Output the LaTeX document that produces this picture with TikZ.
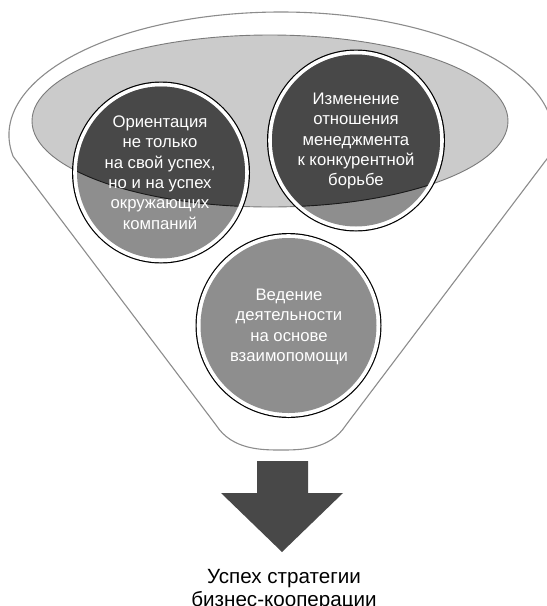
\documentclass[tikz,border=0pt]{standalone}
\usepackage{fontspec}
\setmainfont{Liberation Sans}
\definecolor{dk}{HTML}{484848}
\definecolor{md}{HTML}{8E8E8E}
\definecolor{lt}{HTML}{CBCBCB}
\definecolor{ol}{HTML}{8C8C8C}
\definecolor{el}{HTML}{7A7A7A}
\newcommand\mybub[4]{%
  \fill[black] (#1,#2) ellipse[x radius=#3, y radius=#4];
  \fill[white] (#1,#2) ellipse[x radius=#3-1.2, y radius=#4-1.2];
  \fill[md] (#1,#2) ellipse[x radius=#3-5, y radius=#4-5];
  \begin{scope}
    \clip (#1,#2) ellipse[x radius=#3-5, y radius=#4-5];
    \fill[dk] (270,121) ellipse[x radius=238, y radius=86];
    \draw[black!90, line width=0.9pt] (270,121) ellipse[x radius=238, y radius=86];
  \end{scope}}
\tikzset{
  btxt/.style={text=white, align=center, inner sep=0pt, font=\fontsize{16.7}{20.3}\selectfont},
  rtxt/.style={text=black, inner sep=0pt, anchor=base, font=\fontsize{20.6}{24}\selectfont}
}
\begin{document}
\begin{tikzpicture}[x=1pt,y=-1pt]
\useasboundingbox (0,0) rectangle (547,606);
\begin{scope}
\clip (0,0) rectangle (547,606);
% funnel
\draw[ol, line width=1.1pt, fill=white] (13.13,156.36)
  arc[start angle=170, end angle=370, x radius=272, y radius=123]
  -- (346,425) .. controls (330,450) and (300,450) .. (281,450)
  .. controls (262,450) and (232,450) .. (216,425) -- cycle;
% inner ellipse
\draw[el, line width=0.9pt, fill=lt] (270,121) ellipse[x radius=238, y radius=86];
% circles
\mybub{161}{172.5}{89}{91}
\mybub{356}{140.5}{89}{91}
\mybub{288.5}{325.5}{93}{92.5}
\node[btxt] (t1) at (160,172.5) {Ориентация\\не только\\на свой успех,\\но и на успех\\окружающих\\компаний};
\node[btxt] (t2) at (356,141) {Изменение\\отношения\\менеджмента\\к конкурентной\\борьбе};
\node[btxt] (t3) at (289,327) {Ведение\\деятельности\\на основе\\взаимопомощи};
% arrow
\fill[dk] (257,461) -- (308,461) -- (308,493) -- (343,493) -- (282,552)
  -- (221,493) -- (257,493) -- cycle;
\node[rtxt] (r1) at (284,583) {Успех стратегии};
\node[rtxt] (r2) at (284,606) {бизнес-кооперации};
\end{scope}
\end{tikzpicture}
\end{document}
